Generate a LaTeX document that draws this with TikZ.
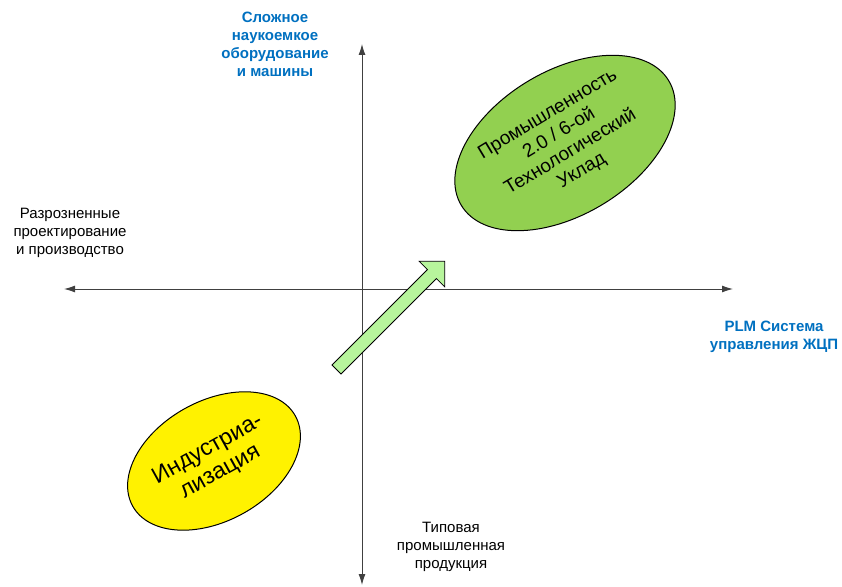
\documentclass[tikz,border=0pt]{standalone}
\usepackage{fontspec}
\setmainfont{Liberation Sans}
\usetikzlibrary{arrows.meta,shapes.geometric}
\definecolor{plmblue}{RGB}{0,112,192}
\definecolor{okgreen}{RGB}{146,208,80}
\definecolor{arrowgreen}{RGB}{183,245,156}
\begin{document}
\begin{tikzpicture}[x=1pt,y=1pt,
  axe/.style={draw=black!75,line width=0.9pt,{Latex[length=11pt,width=7pt]}-{Latex[length=11pt,width=7pt]}},
  lbl/.style={align=center,font=\fontsize{15}{18}\selectfont},
  bleu/.style={lbl,text=plmblue,font=\fontsize{15}{18}\selectfont\bfseries}]
  \useasboundingbox (0,0) rectangle (842,586);
  % axes
  \coordinate (gauche) at (64,297);
  \coordinate (droite) at (733,297);
  \coordinate (haut) at (362,542);
  \coordinate (bas) at (362,1);
  \draw[axe] (gauche) -- (droite);
  \draw[axe] (bas) -- (haut);

  % textes des axes
  \node[bleu] (complexe) at (275,542) {Сложное\\наукоемкое\\оборудование\\и машины};
  \node[lbl] (disperse) at (70,353) {Разрозненные\\проектирование\\и производство};
  \node[bleu] (plm) at (774,249) {PLM Система\\управления ЖЦП};
  \node[lbl] (typique) at (451,39) {Типовая\\промышленная\\продукция};

  % ellipses
  \node[draw=black,line width=1pt,fill=okgreen,ellipse,inner sep=0pt,
    minimum width=242pt,minimum height=144pt,rotate=31,align=center,
    font=\fontsize{19}{22}\selectfont] (industrie) at (565,443)
    {Промышленность\\2.0 / 6-ой\\Технологический\\Уклад};
  \node[draw=black,line width=1pt,fill=yellow,ellipse,inner sep=0pt,
    minimum width=186pt,minimum height=120pt,rotate=29,align=center,
    font=\fontsize{23}{26}\selectfont] (indus) at (214,125)
    {Индустриа-\\лизация};

  % grande fleche
  \begin{scope}[shift={(336.5,216.5)},rotate=45]
    \draw[fill=arrowgreen,line width=0.8pt,line join=miter]
      (0,-6.4) -- (135,-6.4) -- (135,-18) -- (153,0) -- (135,18) -- (135,6.4) -- (0,6.4) -- cycle;
  \end{scope}
\end{tikzpicture}
\end{document}
